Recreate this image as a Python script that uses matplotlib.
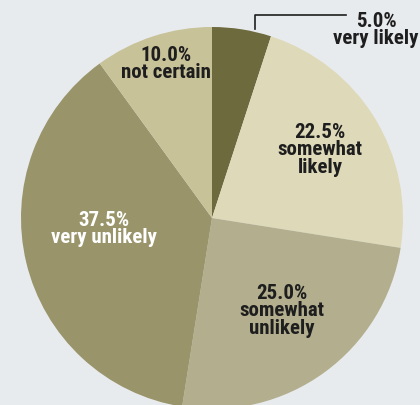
import matplotlib
matplotlib.use("Agg")
import matplotlib.pyplot as plt

labels = ["very likely", "somewhat\nlikely", "somewhat\nunlikely", "very unlikely", "not certain"]
values = [5.0, 22.5, 25.0, 37.5, 10.0]
colors = ["#6d6a3e", "#dedab9", "#b3af8e", "#999469", "#c8c299"]
text_colors = ["#1e1e1e", "#1e1e1e", "#1e1e1e", "#ffffff", "#1e1e1e"]

W, H = 420, 406
fig = plt.figure(figsize=(W / 100, H / 100), dpi=100)
fig.patch.set_facecolor("#e8ebee")
ax = fig.add_axes([0, 0, 1, 1])

cx, cy, r = 212, H - 219, 191
ax.pie(values, colors=colors, startangle=90, counterclock=False,
       center=(cx, cy), radius=r, frame=True)
ax.set_xlim(0, W)
ax.set_ylim(0, H)
ax.set_aspect("equal")
ax.axis("off")

font = dict(fontsize=15, fontweight="bold", family=["Roboto Condensed", "DejaVu Sans"],
            linespacing=0.88)
pos = [(376, H - 30), (320, H - 150), (282, H - 311), (104, H - 229), (166, H - 64)]
for i, (v, lab) in enumerate(zip(values, labels)):
    x, y = pos[i]
    ax.text(x, y, f"{v:.1f}%\n{lab}", ha="center", va="center", color=text_colors[i], **font)

ax.plot([255, 255, 346], [H - 30, H - 16, H - 16], color="#1e1e1e", lw=1.2)

fig.savefig("out.png", dpi=100, facecolor=fig.get_facecolor())
